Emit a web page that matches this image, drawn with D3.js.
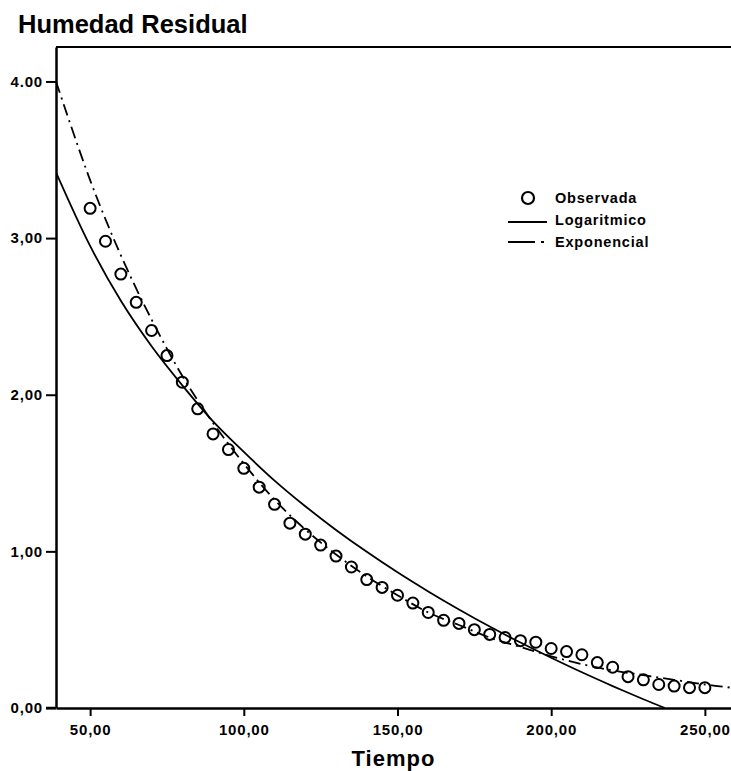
<!DOCTYPE html>
<html>
<head>
<meta charset="utf-8">
<script src="https://cdn.jsdelivr.net/npm/d3@7"></script>
<style>
  body { margin: 0; background: #fff; }
  svg text { font-family: "Liberation Sans", Arial, sans-serif; font-weight: bold; fill: #000; }
</style>
</head>
<body>
<svg id="chart" width="731" height="771"></svg>
<script>
// observed residual moisture
var tiempo = [50,55,60,65,70,75,80,85,90,95,100,105,110,115,120,125,130,135,140,145,150,
              155,160,165,170,175,180,185,190,195,200,205,210,215,220,225,230,235,240,245,250];
var observada = [3.19,2.98,2.77,2.59,2.41,2.25,2.08,1.91,1.75,1.65,1.53,1.41,1.30,1.18,1.11,1.04,0.97,0.90,0.82,0.77,0.72,
                 0.67,0.61,0.56,0.54,0.50,0.47,0.45,0.43,0.42,0.38,0.36,0.34,0.29,0.26,0.20,0.18,0.15,0.14,0.13,0.13];

// fitted curves
var logT = [38.9,50,60,70,80,90,100,110,120,130,140,150,160,170,180,190,200,210,220,230,237];
var logY = [3.42,2.95,2.60,2.31,2.06,1.83,1.635,1.452,1.288,1.137,0.997,0.866,0.744,0.629,0.520,0.418,0.321,0.228,0.140,0.056,0.00];
var expT = [38.9,50,60,70,80,90,100,110,120,130,140,150,160,170,180,190,200,210,220,230,240,250,258.5];
var expY = [4.00,3.37,2.89,2.48,2.12,1.82,1.56,1.33,1.14,0.98,0.84,0.72,0.61,0.53,0.45,0.39,0.33,0.28,0.24,0.21,0.18,0.15,0.13];

var xTicks = [50,100,150,200,250];
var xTickLabels = ["50,00","100,00","150,00","200,00","250,00"];
var yTicks = [0,1,2,3,4];
var yTickLabels = ["0,00","1,00","2,00","3,00","4.00"];
var legendNames = ["Observada","Logaritmico","Exponencial"];

var svg = d3.select('#chart');
var pLeft = 56, pRight = 731, pTop = 47, pBottom = 708;

var x = d3.scaleLinear().domain([38.9, 258.5]).range([pLeft, pRight]);
var y = d3.scaleLinear().domain([0, 4.22]).range([pBottom, pTop]);

// title
svg.append('text')
	.attr('x', 18).attr('y', 33)
	.attr('font-size', '25.5px')
	.text('Humedad Residual');

// top frame line
svg.append('line')
	.attr('x1', pLeft).attr('x2', pRight)
	.attr('y1', pTop).attr('y2', pTop)
	.attr('stroke', '#000').attr('stroke-width', 2);

// axes
var yAxis = svg.append('g')
	.attr('transform', 'translate(' + pLeft + ',0)')
	.call(d3.axisLeft(y).tickValues(yTicks).tickSize(10).tickSizeOuter(0).tickPadding(3)
		.tickFormat(function(d, i){ return yTickLabels[i]; }));
var xAxis = svg.append('g')
	.attr('transform', 'translate(0,' + pBottom + ')')
	.call(d3.axisBottom(x).tickValues(xTicks).tickSize(8).tickSizeOuter(0).tickPadding(8)
		.tickFormat(function(d, i){ return xTickLabels[i]; }));

[yAxis, xAxis].forEach(function(g){
	g.select('.domain').attr('stroke', '#000').attr('stroke-width', 2.5);
	g.selectAll('.tick line').attr('stroke', '#000').attr('stroke-width', 2);
	g.selectAll('.tick text')
		.attr('font-size', '15px')
		.attr('font-family', '"Liberation Sans", Arial, sans-serif')
		.attr('font-weight', 'bold')
		.attr('letter-spacing', '0.8px')
		.attr('fill', '#000');
});
// x axis line goes past the y axis like the reference
svg.append('line')
	.attr('x1', pLeft - 10).attr('x2', pLeft)
	.attr('y1', pBottom).attr('y2', pBottom)
	.attr('stroke', '#000').attr('stroke-width', 2.5);

svg.append('text')
	.attr('x', (pLeft + pRight) / 2).attr('y', 766)
	.attr('text-anchor', 'middle')
	.attr('font-size', '22px')
	.attr('letter-spacing', '1px')
	.text('Tiempo');

// clip to plot area
svg.append('clipPath').attr('id', 'plotclip')
	.append('rect').attr('x', pLeft).attr('y', pTop).attr('width', pRight - pLeft).attr('height', pBottom - pTop);

var plot = svg.append('g').attr('clip-path', 'url(#plotclip)');

var line = d3.line()
	.x(function(d){ return x(d[0]); })
	.y(function(d){ return y(d[1]); })
	.curve(d3.curveCatmullRom);

plot.append('path')
	.datum(d3.zip(logT, logY))
	.attr('d', line)
	.attr('fill', 'none')
	.attr('stroke', '#000')
	.attr('stroke-width', 1.8);

plot.append('path')
	.datum(d3.zip(expT, expY))
	.attr('d', line)
	.attr('fill', 'none')
	.attr('stroke', '#000')
	.attr('stroke-width', 1.8)
	.attr('stroke-dasharray', '12,5,2,5');

// observed points
svg.selectAll('.obs')
	.data(d3.zip(tiempo, observada))
	.enter()
	.append('circle')
	.attr('class', 'obs')
	.attr('cx', function(d){ return x(d[0]); })
	.attr('cy', function(d){ return y(d[1]); })
	.attr('r', 5.5)
	.attr('fill', 'none')
	.attr('stroke', '#000')
	.attr('stroke-width', 2);

// legend
var lg = svg.append('g');
lg.append('circle')
	.attr('cx', 528).attr('cy', 198).attr('r', 6)
	.attr('fill', 'none').attr('stroke', '#000').attr('stroke-width', 2.2);
lg.append('line')
	.attr('x1', 508).attr('x2', 547).attr('y1', 222).attr('y2', 222)
	.attr('stroke', '#000').attr('stroke-width', 1.8);
lg.append('line')
	.attr('x1', 508).attr('x2', 547).attr('y1', 242).attr('y2', 242)
	.attr('stroke', '#000').attr('stroke-width', 1.8)
	.attr('stroke-dasharray', '27,6,3,10');
lg.selectAll('.lgtext')
	.data(legendNames)
	.enter()
	.append('text')
	.attr('x', 555)
	.attr('y', function(d, i){ return 203 + i * 22; })
	.attr('font-size', '14.5px')
	.attr('letter-spacing', '0.8px')
	.text(function(d){ return d; });
</script>
</body>
</html>
